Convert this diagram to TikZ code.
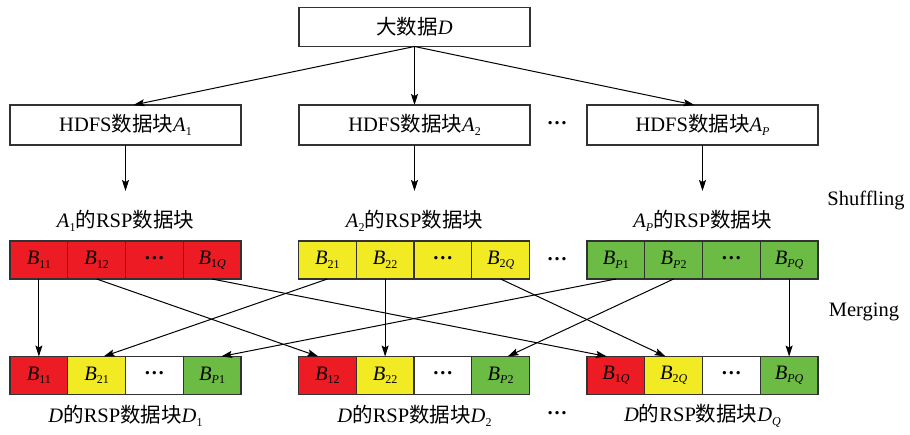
\documentclass[tikz,border=0pt]{standalone}
\usepackage{fontspec}
\setmainfont{Liberation Serif}
\newfontfamily\cjk{Noto Sans CJK SC}
\usetikzlibrary{arrows.meta}
\definecolor{cred}{RGB}{237,28,36}
\definecolor{cyel}{RGB}{242,234,34}
\definecolor{cgrn}{RGB}{108,187,69}
\definecolor{bord}{RGB}{50,50,50}
\newcommand\ssb[1]{\raisebox{-0.17em}{\fontsize{12}{12}\selectfont #1}}
\newcommand\bx[1]{\textit{B}\ssb{#1}}
\newcommand\dts{\raisebox{0.22em}{\textbf{…}}}
\tikzset{
  mainfont/.style={font=\fontsize{20.5}{23}\selectfont},
  bigbox/.style={mainfont, draw=bord, line width=1.2pt, minimum width=231pt, minimum height=39pt, inner sep=0pt, outer sep=0pt},
  cellbox/.style={mainfont, draw=bord, line width=1.2pt, minimum width=57.75pt, minimum height=38pt, inner sep=0pt, outer sep=0pt},
  txt/.style={mainfont, inner sep=0pt},
  arr/.style={-{Stealth[length=11pt,width=7pt,inset=2pt]}, line width=1pt, black}
}
\begin{document}
\begin{tikzpicture}[x=1pt,y=-1pt]
\useasboundingbox (0,0) rectangle (910,434);
% top
\node[bigbox] (top) at (414.5,27) {{\cjk 大数据}\textit{D}};
% HDFS
\node[bigbox, minimum height=40pt] (h1) at (125.5,125) {HDFS{\cjk 数据块}\textit{A}\ssb{1}};
\node[bigbox, minimum height=40pt] (h2) at (414.5,125) {HDFS{\cjk 数据块}\textit{A}\ssb{2}};
\node[bigbox, minimum height=40pt] (h3) at (702.5,125) {HDFS{\cjk 数据块}\textit{A}\ssb{\textit{P}}};
\node[txt] (d1) at (557,125) {\dts};
\draw[arr] (top.south) -- ([xshift=8pt]h1.north);
\draw[arr] (top.south) -- (h2.north);
\draw[arr] (top.south) -- ([xshift=-8pt]h3.north);
% labels
\node[txt] (l1) at (125.5,221) {\textit{A}\ssb{1}{\cjk 的}RSP{\cjk 数据块}};
\node[txt] (l2) at (414.5,221) {\textit{A}\ssb{2}{\cjk 的}RSP{\cjk 数据块}};
\node[txt] (l3) at (702.5,221) {\textit{A}\ssb{\textit{P}}{\cjk 的}RSP{\cjk 数据块}};
\coordinate (e1) at (125.5,191);
\coordinate (e2) at (414.5,191);
\coordinate (e3) at (702.5,191);
\draw[arr] (h1.south) -- (e1);
\draw[arr] (h2.south) -- (e2);
\draw[arr] (h3.south) -- (e3);
\node[txt] (shuf) at (866,200) {Shuffling};
\node[txt] (merg) at (864,312) {Merging};
% row 1
\node[cellbox, fill=cred] (r1c11) at (38.875,260) {\bx{11}};
\node[cellbox, fill=cred] (r1c12) at (96.625,260) {\bx{12}};
\node[cellbox, fill=cred] (r1c13) at (154.375,260) {\dts};
\node[cellbox, fill=cred] (r1c14) at (212.125,260) {\bx{1\textit{Q}}};
\node[cellbox, fill=cyel] (r1c21) at (327.375,260) {\bx{21}};
\node[cellbox, fill=cyel] (r1c22) at (385.125,260) {\bx{22}};
\node[cellbox, fill=cyel] (r1c23) at (442.875,260) {\dts};
\node[cellbox, fill=cyel] (r1c24) at (500.625,260) {\bx{2\textit{Q}}};
\node[cellbox, fill=cgrn] (r1c31) at (615.875,260) {\bx{\textit{P}1}};
\node[cellbox, fill=cgrn] (r1c32) at (673.625,260) {\bx{\textit{P}2}};
\node[cellbox, fill=cgrn] (r1c33) at (731.375,260) {\dts};
\node[cellbox, fill=cgrn] (r1c34) at (789.125,260) {\bx{\textit{PQ}}};
\node[txt] (d2) at (557,261) {\dts};
% row 2
\node[cellbox, fill=cred] (r2c11) at (38.875,375.5) {\bx{11}};
\node[cellbox, fill=cyel] (r2c12) at (96.625,375.5) {\bx{21}};
\node[cellbox, fill=white] (r2c13) at (154.375,375.5) {\dts};
\node[cellbox, fill=cgrn] (r2c14) at (212.125,375.5) {\bx{\textit{P}1}};
\node[cellbox, fill=cred] (r2c21) at (327.375,375.5) {\bx{12}};
\node[cellbox, fill=cyel] (r2c22) at (385.125,375.5) {\bx{22}};
\node[cellbox, fill=white] (r2c23) at (442.875,375.5) {\dts};
\node[cellbox, fill=cgrn] (r2c24) at (500.625,375.5) {\bx{\textit{P}2}};
\node[cellbox, fill=cred] (r2c31) at (615.875,375.5) {\bx{1\textit{Q}}};
\node[cellbox, fill=cyel] (r2c32) at (673.625,375.5) {\bx{2\textit{Q}}};
\node[cellbox, fill=white] (r2c33) at (731.375,375.5) {\dts};
\node[cellbox, fill=cgrn] (r2c34) at (789.125,375.5) {\bx{\textit{PQ}}};
% bottom labels
\node[txt] (b1) at (125.5,416) {\textit{D}{\cjk 的}RSP{\cjk 数据块}\textit{D}\ssb{1}};
\node[txt] (b2) at (414.5,416) {\textit{D}{\cjk 的}RSP{\cjk 数据块}\textit{D}\ssb{2}};
\node[txt] (b3) at (702.5,416) {\textit{D}{\cjk 的}RSP{\cjk 数据块}\textit{D}\ssb{\textit{Q}}};
\node[txt] (d3) at (557,415) {\dts};
% shuffling arrows
\draw[arr] (r1c11.south) -- (r2c11.north);
\draw[arr] (r1c12.south) -- ([xshift=-9pt]r2c21.north);
\draw[arr] (r1c14.south) -- ([xshift=-9pt]r2c31.north);
\draw[arr] (r1c21.south) -- ([xshift=7pt]r2c12.north);
\draw[arr] (r1c22.south) -- (r2c22.north);
\draw[arr] (r1c24.south) -- ([xshift=-8pt]r2c32.north);
\draw[arr] (r1c31.south) -- ([xshift=9pt]r2c14.north);
\draw[arr] (r1c32.south) -- ([xshift=7pt]r2c24.north);
\draw[arr] (r1c34.south) -- (r2c34.north);
\end{tikzpicture}
\end{document}
